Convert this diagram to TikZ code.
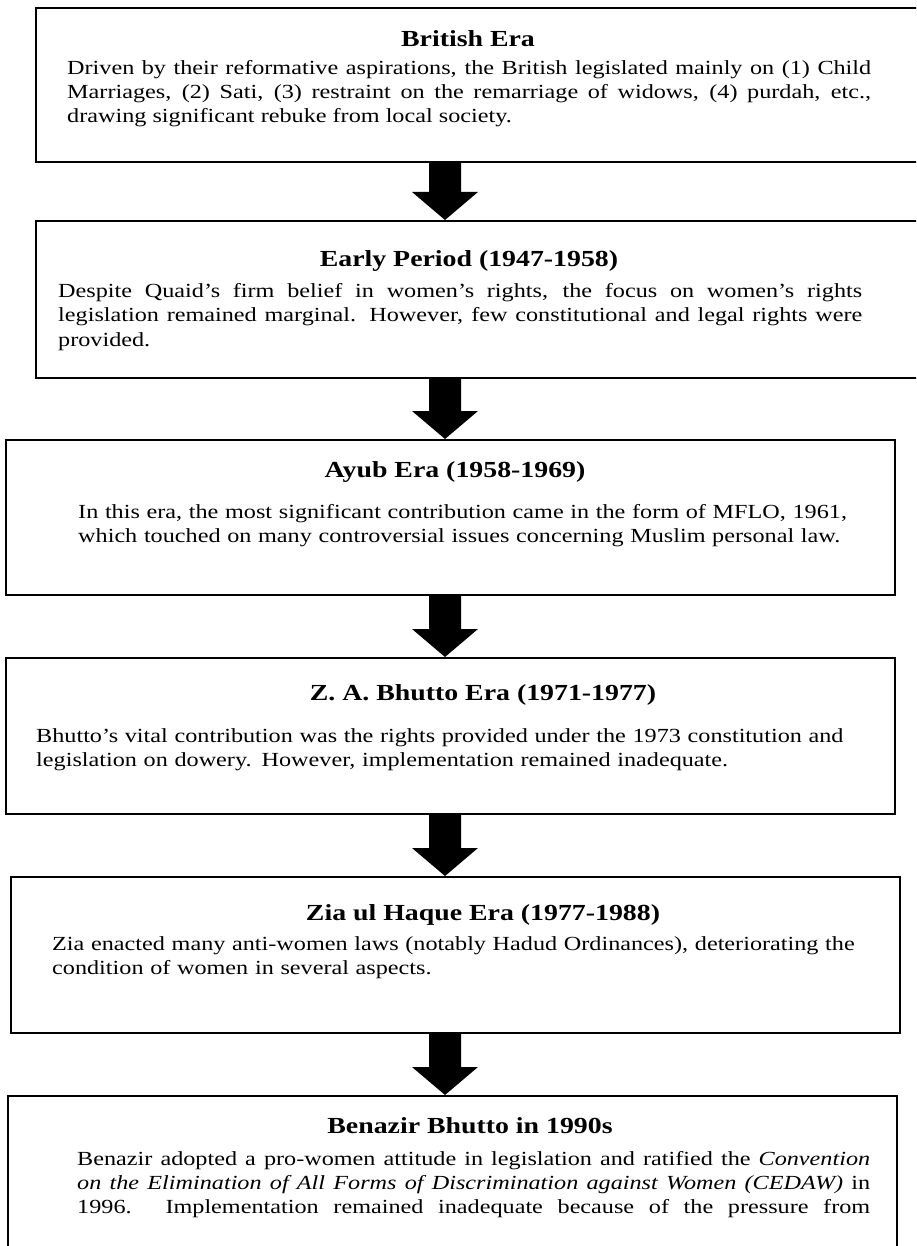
\documentclass[tikz,border=0pt]{standalone}
\usepackage{fontspec}
\setmainfont{Liberation Serif}[FakeStretch=1.21]
\usetikzlibrary{calc}
\hyphenpenalty=10000
\tolerance=9999
\newcommand\blockarr[2]{%
  \fill let \p1=(#1.south -| ax), \p2=(#2.north -| ax) in
    (\x1-16pt,\y1) -- (\x1+16pt,\y1) -- (\x1+16pt,\y2+28pt) -- (\x1+33pt,\y2+28pt)
    -- (\x1,\y2) -- (\x1-33pt,\y2+28pt) -- (\x1-16pt,\y2+28pt) -- cycle;}
\begin{document}
\begin{tikzpicture}[x=1pt,y=-1pt,
  box/.style={draw=black, line width=1.8pt, inner sep=0pt, anchor=north west},
  ttl/.style={font=\fontsize{23}{27}\selectfont\bfseries, inner sep=0pt, anchor=base},
  bodyj/.style={font=\fontsize{20}{24}\selectfont, inner sep=0pt, anchor=base west, align=justify, text width=#1},
  bodyl/.style={font=\fontsize{20}{24}\selectfont, inner sep=0pt, anchor=base west, align=left, text width=#1},
]
\useasboundingbox (0,0) rectangle (916,1246);
\clip (0,0) rectangle (916,1246);
\coordinate (ax) at (445,0);

% boxes
\node[box, minimum width=890pt, minimum height=154pt] (b1) at (35,7) {};
\node[box, minimum width=890pt, minimum height=157pt] (b2) at (35,220) {};
\node[box, minimum width=889pt, minimum height=155pt] (b3) at (5,439) {};
\node[box, minimum width=889pt, minimum height=156pt] (b4) at (5,657) {};
\node[box, minimum width=889pt, minimum height=156pt] (b5) at (10,876) {};
\node[box, minimum width=889pt, minimum height=180pt] (b6) at (7,1095) {};

% titles
\node[ttl] (t1) at (468,47) {British Era};
\node[ttl] (t2) at (469,267) {Early Period (1947-1958)};
\node[ttl] (t3) at (455,477) {Ayub Era (1958-1969)};
\node[ttl] (t4) at (483,700) {Z. A. Bhutto Era (1971-1977)};
\node[ttl] (t5) at (483,920) {Zia ul Haque Era (1977-1988)};
\node[ttl] (t6) at (470,1133) {Benazir Bhutto in 1990s};

% bodies
\node[bodyj=804pt] (x1) at (67,75) {Driven by their reformative aspirations, the British legislated mainly on (1) Child\linebreak Marriages, (2) Sati, (3) restraint on the remarriage of widows, (4) purdah, etc.,\linebreak drawing significant rebuke from local society.};
\node[bodyj=804pt] (x2) at (58,298) {Despite Quaid’s firm belief in women’s rights, the focus on women’s rights\linebreak legislation remained marginal. However, few constitutional and legal rights were\linebreak provided.};
\node[bodyl=840pt] (x3) at (78,518) {In this era, the most significant contribution came in the form of MFLO, 1961,\\ which touched on many controversial issues concerning Muslim personal law.};
\node[bodyl=870pt] (x4) at (36,742) {Bhutto’s vital contribution was the rights provided under the 1973 constitution and\\ legislation on dowery. However, implementation remained inadequate.};
\node[bodyl=850pt] (x5) at (52,950) {Zia enacted many anti-women laws (notably Hadud Ordinances), deteriorating the\\ condition of women in several aspects.};
\node[bodyj=793pt] (x6) at (77,1165) {Benazir adopted a pro-women attitude in legislation and ratified the \textit{Convention}\linebreak \textit{on the Elimination of All Forms of Discrimination against Women (CEDAW)} in\linebreak 1996. Implementation remained inadequate because of the pressure from\linebreak\mbox{}};

% arrows
\blockarr{b1}{b2}
\blockarr{b2}{b3}
\blockarr{b3}{b4}
\blockarr{b4}{b5}
\blockarr{b5}{b6}
\end{tikzpicture}
\end{document}
